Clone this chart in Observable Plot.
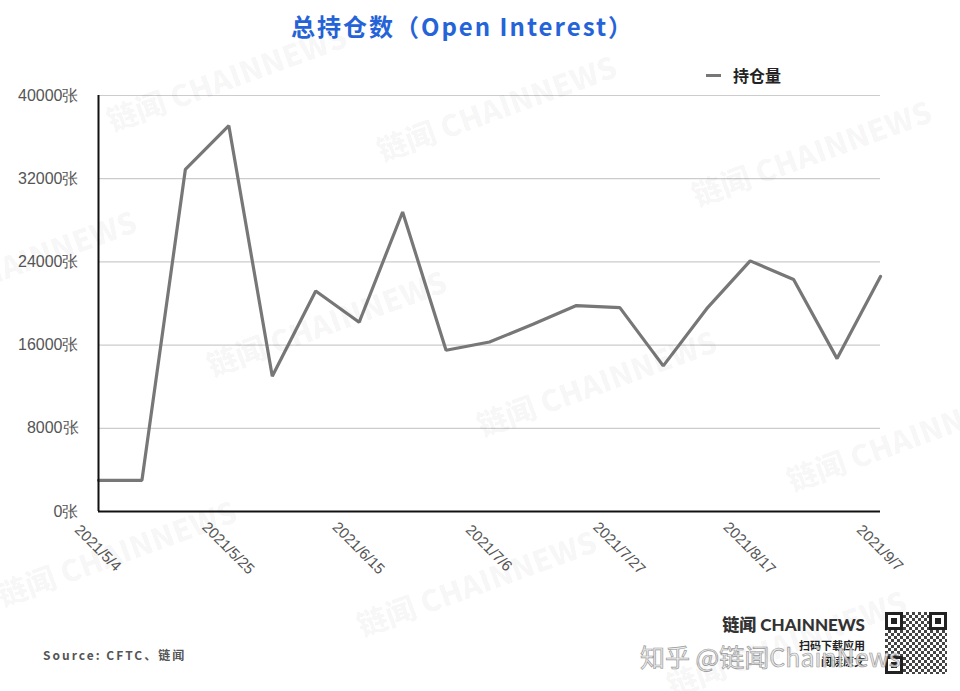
<!DOCTYPE html>
<html>
<head>
<meta charset="utf-8">
<script src="https://cdn.jsdelivr.net/npm/d3@7"></script>
<script src="https://cdn.jsdelivr.net/npm/@observablehq/plot@0.6"></script>
<style>
  html, body { margin: 0; padding: 0; background: #fff; }
  #wrap { position: relative; width: 960px; height: 691px; overflow: hidden; background: #fff;
          font-family: "Liberation Sans", "Noto Sans CJK SC", sans-serif; }
  #title { position: absolute; top: 8px; left: 0; width: 925px; text-align: center;
           font-family: "Noto Sans CJK SC", sans-serif; font-weight: 700; font-size: 24px;
           color: #2563d8; letter-spacing: 2px; line-height: 36px; }
  #legend { position: absolute; left: 706px; top: 63px; display: flex; align-items: center;
            font-family: "Noto Sans CJK SC", sans-serif; font-weight: 700; font-size: 16px; color: #222; }
  #legend .sw { width: 15px; height: 3px; background: #777; margin-right: 12px; }
  #chart { position: absolute; left: 0; top: 55px; }
  #source { position: absolute; left: 43px; top: 646px; font-family: "Noto Sans CJK SC", sans-serif;
            font-weight: 700; font-size: 12px; color: #555; letter-spacing: 2px; }
  #logo { position: absolute; right: 95px; top: 613px; text-align: right;
          font-family: "Noto Sans CJK SC", sans-serif; font-weight: 700; color: #333; }
  #logo .big { font-size: 17px; line-height: 24px; font-family: "Lato", "Noto Sans CJK SC", sans-serif; font-weight: 900; }
  #logo .small { font-size: 11px; line-height: 16px; color: #222; }
  #qr { position: absolute; left: 885px; top: 612px; width: 62px; height: 62px;
        background: repeating-conic-gradient(#444 0 25%, #fff 0 50%) 0 0 / 6px 6px; }
  #qr .f { position: absolute; width: 12px; height: 12px; border: 3px solid #222; background: #fff; }
  #qr .f::after { content: ""; position: absolute; left: 3px; top: 3px; width: 6px; height: 6px; background: #222; }
  #zhihu { position: absolute; left: 640px; top: 638px; font-family: "Noto Sans CJK SC", sans-serif;
           font-size: 25px; color: rgba(235,235,235,0.85); -webkit-text-stroke: 0.7px #9a9a9a; white-space: nowrap; }
  .wm { position: absolute; font-family: "Noto Sans CJK SC", sans-serif; font-weight: 900; font-size: 30px;
        color: rgba(0,0,0,0.045); white-space: nowrap; transform: rotate(-20deg); transform-origin: center; pointer-events: none; }
</style>
</head>
<body>
<div id="wrap">
  <div id="title">总持仓数（Open Interest）</div>
  <div id="legend"><div class="sw"></div><span>持仓量</span></div>
  <div id="chart"></div>
  <div id="source">Source: CFTC、链闻</div>
  <div id="logo"><div class="big">链闻 CHAINNEWS</div><div class="small">扫码下载应用</div><div class="small">阅读原文</div></div>
  <div id="qr"><div class="f" style="left:0;top:0"></div><div class="f" style="right:0;top:0"></div><div class="f" style="left:0;bottom:0"></div></div>
  <div id="zhihu">知乎 @链闻ChainNews</div>
</div>
<script>
// ---- data ----
const dates = ["2021-05-04","2021-05-11","2021-05-18","2021-05-25","2021-06-01","2021-06-08","2021-06-15",
               "2021-06-22","2021-06-29","2021-07-06","2021-07-13","2021-07-20","2021-07-27","2021-08-03",
               "2021-08-10","2021-08-17","2021-08-24","2021-08-31","2021-09-07"];
const openInterest = [3000, 3000, 32900, 37100, 13000, 21200, 18200,
                      28800, 15500, 16300, 18000, 19800, 19600, 14000,
                      19500, 24100, 22300, 14700, 22600];
const yTicks = [0, 8000, 16000, 24000, 32000, 40000];
const xTickDates = ["2021-05-04","2021-05-25","2021-06-15","2021-07-06","2021-07-27","2021-08-17","2021-09-07"];
const xTickLabels = ["2021/5/4","2021/5/25","2021/6/15","2021/7/6","2021/7/27","2021/8/17","2021/9/7"];
const seriesName = "持仓量";

const data = dates.map((d, i) => ({date: new Date(d + "T00:00:00Z"), value: openInterest[i]}));
const xticks = xTickDates.map((d, i) => ({date: new Date(d + "T00:00:00Z"), label: xTickLabels[i]}));

const chart = Plot.plot({
  width: 960,
  height: 590,
  marginLeft: 98,
  marginRight: 80,
  marginTop: 40,
  marginBottom: 134,
  style: {fontSize: "16px", fontFamily: "Liberation Sans, Arial, sans-serif", color: "#555", background: "transparent", overflow: "visible"},
  x: {type: "utc", domain: [data[0].date, data[data.length - 1].date], axis: null},
  y: {domain: [0, 40000], ticks: yTicks, tickFormat: d => d + "张", tickSize: 0, tickPadding: 20, label: null},
  marks: [
    Plot.ruleY(yTicks.filter(v => v > 0), {stroke: "#cccccc", strokeWidth: 1.2}),
    Plot.line(data, {x: "date", y: "value", stroke: "#777777", strokeWidth: 3.2, strokeLinejoin: "miter"}),
    Plot.ruleY([0], {stroke: "#111", strokeWidth: 2}),
    Plot.ruleX([data[0].date], {stroke: "#111", strokeWidth: 2}),
    Plot.text(xticks, {x: "date", text: "label", frameAnchor: "bottom", dx: -4, dy: 40, rotate: 45,
                       textAnchor: "middle", fontSize: 15, fill: "#555"})
  ]
});
document.getElementById("chart").appendChild(chart);

// faint diagonal watermarks
const wmPos = [[100,55],[370,85],[685,130],[-110,240],[200,300],[470,360],[780,415],[-10,530],[350,560],[660,620]];
const wrap = document.getElementById("wrap");
wmPos.forEach(([l, t]) => {
  const w = document.createElement("div");
  w.className = "wm";
  w.style.left = l + "px";
  w.style.top = t + "px";
  w.textContent = "链闻 CHAINNEWS";
  wrap.appendChild(w);
});
</script>
</body>
</html>
